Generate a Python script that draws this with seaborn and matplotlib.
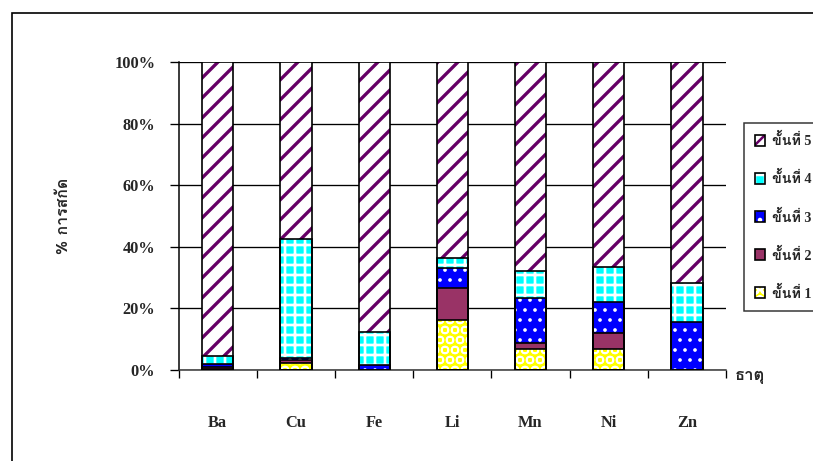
import matplotlib
matplotlib.use("Agg")
import matplotlib.pyplot as plt
from matplotlib import font_manager
from matplotlib.ft2font import FT2Font
from matplotlib.patches import Patch, Rectangle
from matplotlib.legend_handler import HandlerTuple
import numpy as np
import pandas as pd
import seaborn as sns

# ---- data (percent extracted in each sequential extraction step) ----
metals = ["Ba", "Cu", "Fe", "Li", "Mn", "Ni", "Zn"]
step1 = [0.3, 2.2, 0.0, 16.2, 6.9, 6.9, 0.0]
step2 = [0.6, 1.2, 0.1, 10.4, 1.8, 5.0, 0.0]
step3 = [1.2, 0.4, 1.5, 6.5, 14.6, 10.3, 15.7]
step4 = [2.5, 38.6, 10.6, 3.3, 8.7, 11.3, 12.4]
step5 = [95.4, 57.6, 87.8, 63.6, 68.0, 66.5, 71.9]
step_names = ["ขั้นที่ 1", "ขั้นที่ 2", "ขั้นที่ 3", "ขั้นที่ 4", "ขั้นที่ 5"]
y_ticks = [0, 20, 40, 60, 80, 100]
y_title = "% การสกัด"
x_title = "ธาตุ"


def thai_family():
    """Return the name of an installed font that can draw Thai script."""
    preferred = []
    others = []
    for f in font_manager.fontManager.ttflist:
        try:
            ft = FT2Font(f.fname)
            if ft.get_char_index(ord("ก")) and ft.get_char_index(ord("ั")):
                if f.weight in ("bold", 700) or str(f.weight) == "700":
                    preferred.append(f.name)
                else:
                    others.append(f.name)
        except Exception:
            pass
    names = preferred + others
    return names[0] if names else "DejaVu Sans"


THAI = thai_family()
SERIF = "Liberation Serif"
MIXED = [SERIF, THAI, "DejaVu Sans"]

DPI = 120
W, H = 813, 461

sns.set_theme(style="white")
plt.rcParams["font.family"] = MIXED
plt.rcParams["hatch.linewidth"] = 1.5

fig = plt.figure(figsize=(W / DPI, H / DPI), dpi=DPI, facecolor="white")
ax_left, ax_right, ax_top, ax_bottom = 178.7, 726.0, 62.0, 370.0
ax = fig.add_axes([ax_left / W, 1 - ax_bottom / H,
                   (ax_right - ax_left) / W, (ax_bottom - ax_top) / H])
ax.set_facecolor("white")

df = pd.DataFrame({"metal": metals, "s1": step1, "s2": step2, "s3": step3,
                   "s4": step4, "s5": step5})
cols = ["s1", "s2", "s3", "s4", "s5"]
cum = df[cols].cumsum(axis=1)
cum["metal"] = df["metal"]

# fill styles per step: face colour, hatch, hatch colour, hatch width (pt)
styles = {
    "s5": ("white", "//", "#660066", 2.0),
    "s4": ("#00FFFF", "++", "white", 1.6),
    "s3": ("#0000FF", "..", "white", 1.0),
    "s2": ("#993366", "", "#993366", 1.0),
    "s1": ("#FFFF00", "OO", "white", 1.0),
}

BAR_W = 0.4

# draw the tallest cumulative layer first, each lower layer on top of it
for c in reversed(cols):
    face, hatch, hcol, hlw = styles[c]
    n_before = len(ax.patches)
    with plt.rc_context({"hatch.linewidth": hlw}):
        sns.barplot(data=cum, x="metal", y=c,
                    color=face, saturation=1, width=BAR_W, errorbar=None,
                    hatch=hatch, edgecolor=hcol, linewidth=0, ax=ax,
                    zorder=3)
    for p in ax.patches[n_before:]:
        if hasattr(p, "set_hatch_linewidth"):
            p.set_hatch_linewidth(hlw)

# black outlines around every segment
for c in reversed(cols):
    sns.barplot(data=cum, x="metal", y=c,
                width=BAR_W, errorbar=None, fill=False, color="black",
                linewidth=1.0, ax=ax, zorder=4)

# axes styling
ax.set_ylim(0, 100)
ax.set_xlim(-0.5, len(metals) - 0.5)
ax.set_yticks(y_ticks)
ax.set_yticklabels([f"{v}%" for v in y_ticks], fontweight="bold",
                   fontsize=9.8, family=SERIF)
ax.yaxis.grid(True, color="black", linewidth=0.8, zorder=0)
ax.set_axisbelow(True)
ax.xaxis.grid(False)

ax.set_xticks(np.arange(-0.5, len(metals)), labels=[""] * (len(metals) + 1))
ax.set_xticks(np.arange(len(metals)), labels=metals, minor=True)
for t in ax.get_xticklabels(minor=True):
    t.set_fontweight("bold")
    t.set_fontsize(9.8)
    t.set_family(SERIF)
ax.tick_params(axis="x", which="major", direction="out", length=4.5,
               width=0.8, color="black", bottom=True)
ax.tick_params(axis="x", which="minor", length=0, pad=27, bottom=True)
ax.tick_params(axis="y", direction="out", length=5.5, width=0.8,
               color="black", pad=8.5, left=True)

for side in ("top", "right"):
    ax.spines[side].set_visible(False)
ax.spines["left"].set_color("black")
ax.spines["left"].set_linewidth(0.9)
ax.spines["bottom"].set_color("#333333")
ax.spines["bottom"].set_linewidth(0.9)

ax.set_ylabel(y_title, fontsize=9.5, fontweight="bold", family=[THAI, "DejaVu Sans"])
ax.yaxis.set_label_coords(-(ax_left - 71) / (ax_right - ax_left), 0.5)

ax.set_xlabel(x_title, fontsize=10, fontweight="bold", family=[THAI, SERIF])
ax.xaxis.label.set_ha("left")
ax.xaxis.label.set_va("center")
ax.xaxis.set_label_coords((735 - ax_left) / (ax_right - ax_left),
                          -(377 - ax_bottom) / (ax_bottom - ax_top))

# legend (step 5 at the top)
handles = []
for c in reversed(cols):
    face, hatch, hcol, hlw = styles[c]
    handles.append((Patch(facecolor=face, hatch=hatch, edgecolor=hcol, linewidth=0),
                    Patch(fill=False, edgecolor="black", linewidth=1.0)))
labels = list(reversed(step_names))
leg = fig.legend(handles, labels, loc="upper left",
                 bbox_to_anchor=(744 / W, 1 - 122.7 / H),
                 handler_map={tuple: HandlerTuple(ndivide=1, pad=0)},
                 prop={"family": MIXED, "weight": "bold", "size": 8.5},
                 frameon=True, fancybox=False, shadow=False,
                 handlelength=0.75, handleheight=0.75, handletextpad=0.45,
                 labelspacing=1.62, borderpad=0.75, borderaxespad=0)
leg.get_frame().set_edgecolor("black")
leg.get_frame().set_linewidth(0.9)

# frame around the whole chart area
fig.add_artist(Rectangle((12 / W, 1 - 470 / H), (830 - 12) / W, (470 - 13) / H,
                         transform=fig.transFigure, fill=False,
                         edgecolor="black", linewidth=1.0))

fig.savefig("out.png", dpi=DPI, facecolor="white")
